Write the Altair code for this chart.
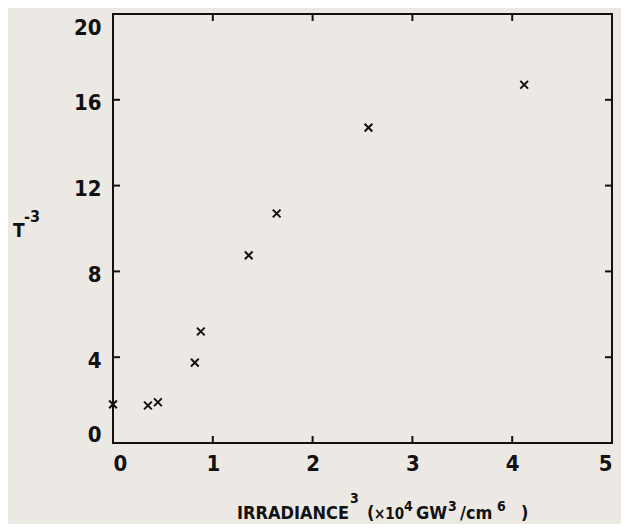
import altair as alt
import pandas as pd

# data
irr3 = [0.0, 0.35, 0.45, 0.82, 0.88, 1.36, 1.64, 2.56, 4.12]
tinv3 = [1.8, 1.75, 1.9, 3.75, 5.2, 8.75, 10.7, 14.7, 16.7]
x_ticks = [0, 1, 2, 3, 4, 5]
y_ticks = [0, 4, 8, 12, 16, 20]

W, H = 499, 429
FONT = "DejaVu Sans Condensed, DejaVu Sans, sans-serif"
TICK = 7

pts = pd.DataFrame({"x": irr3, "y": tinv3})
xt = pd.DataFrame({"x": x_ticks[1:-1]})
yt = pd.DataFrame({"y": y_ticks[1:-1]})

xs = alt.Scale(domain=[0, 5], nice=False, zero=False)
ys = alt.Scale(domain=[0, 20], nice=False, zero=False)

base_axis = dict(domain=False, ticks=False, grid=False, labelFont=FONT,
                 labelFontSize=22, labelFontWeight="bold", labelColor="#111",
                 labelFlush=True, format="d", title=None)

points = alt.Chart(pts).mark_point(
    shape="M-1,-1L1,1M1,-1L-1,1", filled=False, stroke="#111",
    strokeWidth=2, size=60, opacity=1
).encode(
    x=alt.X("x:Q", scale=xs, axis=alt.Axis(values=x_ticks, labelPadding=10, **base_axis)),
    y=alt.Y("y:Q", scale=ys, axis=alt.Axis(values=y_ticks, labelPadding=12,
                                           labelOffset=3, **base_axis)),
)

tick_style = dict(color="#111", strokeWidth=2)
bot = alt.Chart(xt).mark_rule(**tick_style).encode(
    x=alt.X("x:Q", scale=xs), y=alt.value(H), y2=alt.value(H - TICK))
top = alt.Chart(xt).mark_rule(**tick_style).encode(
    x=alt.X("x:Q", scale=xs), y=alt.value(0), y2=alt.value(TICK))
left = alt.Chart(yt).mark_rule(**tick_style).encode(
    y=alt.Y("y:Q", scale=ys), x=alt.value(0), x2=alt.value(TICK))
right = alt.Chart(yt).mark_rule(**tick_style).encode(
    y=alt.Y("y:Q", scale=ys), x=alt.value(W), x2=alt.value(W - TICK))

# axis titles as text pieces (for superscripts)
title_parts = [
    # text, x, y, size
    ("IRRADIANCE", 124, 505, 18),
    ("3", 237, 489, 14),
    ("(", 254, 505, 18),
    ("×10", 261, 505, 15),
    ("4", 291, 497, 14),
    ("GW", 303, 505, 18),
    ("3", 335, 497, 14),
    ("/cm", 347, 505, 18),
    ("6", 384, 497, 14),
    (")", 408, 505, 18),
    ("T", -100, 223, 19),
    ("-3", -89, 208, 16),
]
title_layers = [
    alt.Chart(pd.DataFrame({"t": [t]})).mark_text(
        align="left", baseline="alphabetic", font=FONT, fontWeight="bold",
        fontSize=s, color="#111"
    ).encode(text="t:N", x=alt.value(x), y=alt.value(y))
    for t, x, y, s in title_parts
]

chart = alt.layer(points, bot, top, left, right, *title_layers).properties(
    width=W, height=H,
    autosize=alt.AutoSizeParams(type="none"),
    padding={"left": 105, "top": 6, "right": 9, "bottom": 81},
    background="#ece9e4",
).configure_view(stroke="#111", strokeWidth=2)

chart.save("out.html", embed_options={"renderer": "svg", "actions": False})
